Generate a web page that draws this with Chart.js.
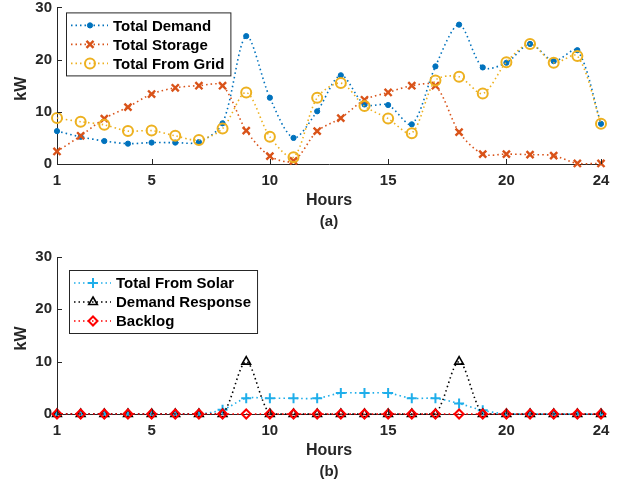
<!DOCTYPE html>
<html>
<head>
<meta charset="utf-8">
<script src="https://cdn.jsdelivr.net/npm/chart.js@4.4.1/dist/chart.umd.min.js"></script>
<style>
    html, body { margin: 0; padding: 0; background: #fff; }
    .panel { position: absolute; left: 0; width: 628px; height: 243px; }
    #panelA { top: 0; }
    #panelB { top: 243px; }
</style>
</head>
<body>
<div class="panel" id="panelA"><canvas id="chartA" width="628" height="243"></canvas></div>
<div class="panel" id="panelB"><canvas id="chartB" width="628" height="243"></canvas></div>
<script>
const hours = [1, 2, 3, 4, 5, 6, 7, 8, 9, 10, 11, 12, 13, 14, 15, 16, 17, 18, 19, 20, 21, 22, 23, 24];
const xTicks = [1, 5, 10, 15, 20, 24];
const yTicks = [0, 10, 20, 30];

// panel (a)
const totalDemand = [6.3, 5.2, 4.4, 3.9, 4.1, 4.1, 4.2, 7.8, 24.5, 12.7, 5.0, 10.1, 17.0, 11.4, 11.3, 7.6, 18.7, 26.7, 18.5, 19.4, 23.0, 19.7, 21.8, 7.7];
const totalStorage = [2.4, 5.4, 8.7, 10.9, 13.4, 14.6, 15.0, 15.0, 6.4, 1.5, 0.6, 6.3, 8.8, 12.3, 13.7, 15.0, 15.0, 6.1, 1.9, 1.9, 1.8, 1.6, 0.1, 0.1];
const totalFromGrid = [8.8, 8.1, 7.5, 6.3, 6.4, 5.4, 4.6, 6.8, 13.7, 5.2, 1.3, 12.7, 15.5, 11.1, 8.7, 5.9, 16.0, 16.7, 13.5, 19.5, 23.0, 19.4, 20.7, 7.7];

// panel (b)
const totalFromSolar = [0, 0, 0, 0, 0, 0, 0, 0.8, 3.0, 3.0, 3.0, 3.0, 4.0, 4.0, 4.0, 3.0, 3.0, 2.0, 0.7, 0, 0, 0, 0, 0];
const demandResponse = [0, 0, 0, 0, 0, 0, 0, 0, 10, 0, 0, 0, 0, 0, 0, 0, 0, 10, 0, 0, 0, 0, 0, 0];
const backlog = [0, 0, 0, 0, 0, 0, 0, 0, 0, 0, 0, 0, 0, 0, 0, 0, 0, 0, 0, 0, 0, 0, 0, 0];

const axisColor = '#262626';
const fontFamily = '"Liberation Sans", Arial, sans-serif';

function series(label, values, color, extra) {
    return Object.assign({
        label: label,
        data: values.map((v, i) => ({ x: hours[i], y: v })),
        borderColor: color,
        pointBorderColor: color,
        pointBackgroundColor: 'rgba(0,0,0,0)',
        borderWidth: 1.6,
        borderDash: [1.5, 3],
        tension: 0.3,
        clip: false,
        fill: false
    }, extra);
}

// draws inward ticks, axis titles, caption and a boxed legend inside the plot
const matlabLook = {
    id: 'matlabLook',
    afterDatasetsDraw(chart, args, opts) {
        const ctx = chart.ctx;
        const area = chart.chartArea;
        const xs = chart.scales.x;
        const ys = chart.scales.y;
        ctx.save();
        ctx.strokeStyle = axisColor;
        ctx.lineWidth = 1;
        ctx.beginPath();
        xTicks.forEach(t => {
            const px = Math.round(xs.getPixelForValue(t)) + 0.5;
            ctx.moveTo(px, area.bottom);
            ctx.lineTo(px, area.bottom - 5);
        });
        yTicks.forEach(t => {
            const py = Math.round(ys.getPixelForValue(t)) + 0.5;
            ctx.moveTo(area.left, py);
            ctx.lineTo(area.left + 5, py);
        });
        ctx.stroke();

        ctx.fillStyle = axisColor;
        ctx.textAlign = 'center';
        ctx.textBaseline = 'middle';
        ctx.font = 'bold 16px ' + fontFamily;
        ctx.fillText('Hours', (area.left + area.right) / 2, area.bottom + 37);
        ctx.font = 'bold 15px ' + fontFamily;
        ctx.fillText(opts.caption, (area.left + area.right) / 2, area.bottom + 58);
        ctx.save();
        ctx.translate(22, (area.top + area.bottom) / 2 + 3);
        ctx.rotate(-Math.PI / 2);
        ctx.font = 'bold 16px ' + fontFamily;
        ctx.fillText('kW', 0, 0);
        ctx.restore();

        // legend
        ctx.font = 'bold 15px ' + fontFamily;
        const sets = chart.data.datasets;
        const maxW = Math.max(...sets.map(d => ctx.measureText(d.label).width));
        const bx = area.left + opts.dx;
        const by = area.top + opts.dy;
        const bw = 47 + maxW + 6;
        const bh = 63;
        ctx.fillStyle = '#fff';
        ctx.fillRect(bx, by, bw, bh);
        ctx.strokeStyle = '#262626';
        ctx.lineWidth = 1;
        ctx.strokeRect(bx + 0.5, by + 0.5, bw, bh);
        sets.forEach((d, i) => {
            const ry = by + 13 + i * 19;
            ctx.save();
            ctx.strokeStyle = d.borderColor;
            ctx.lineWidth = d.borderWidth;
            ctx.setLineDash(d.borderDash);
            ctx.beginPath();
            ctx.moveTo(bx + 5, ry);
            ctx.lineTo(bx + 42, ry);
            ctx.stroke();
            ctx.setLineDash([]);
            ctx.strokeStyle = d.pointBorderColor;
            ctx.fillStyle = d.pointBackgroundColor;
            ctx.lineWidth = d.pointBorderWidth;
            ctx.beginPath();
            Chart.helpers.drawPoint(ctx, {
                pointStyle: d.pointStyle,
                radius: d.pointRadius,
                borderWidth: d.pointBorderWidth,
                rotation: 0
            }, bx + 24, ry);
            ctx.restore();
            ctx.fillStyle = '#000';
            ctx.textAlign = 'left';
            ctx.fillText(d.label, bx + 47, ry + 1);
        });
        ctx.restore();
    }
};

function makeOptions(topPad, xHeight, caption, legendDx, legendDy) {
    const tickFont = { family: fontFamily, size: 15, weight: 'bold' };
    return {
        responsive: false,
        animation: false,
        layout: { padding: { top: topPad, right: 27, left: 0, bottom: 0 } },
        plugins: {
            legend: { display: false },
            tooltip: { enabled: false },
            matlabLook: { caption: caption, dx: legendDx, dy: legendDy }
        },
        scales: {
            x: {
                type: 'linear',
                min: 1,
                max: 24,
                grid: { display: false, drawTicks: false },
                border: { display: true, color: axisColor, width: 1 },
                afterBuildTicks: (scale) => { scale.ticks = xTicks.map(v => ({ value: v })); },
                afterFit: (scale) => {
                    scale.height = xHeight;
                    scale.paddingLeft = 0;
                    scale.paddingRight = 0;
                },
                ticks: { color: axisColor, font: tickFont, padding: 8, maxRotation: 0, autoSkip: false }
            },
            y: {
                min: 0,
                max: 30,
                grid: { display: false, drawTicks: false },
                border: { display: true, color: axisColor, width: 1 },
                afterBuildTicks: (scale) => { scale.ticks = yTicks.map(v => ({ value: v })); },
                afterFit: (scale) => {
                    scale.width = 57;
                    scale.paddingTop = 0;
                    scale.paddingBottom = 0;
                },
                ticks: { color: axisColor, font: tickFont, padding: 5 }
            }
        }
    };
}

new Chart(document.getElementById('chartA'), {
    type: 'line',
    data: {
        datasets: [
            series('Total Demand', totalDemand, '#0072BD', {
                pointStyle: 'circle', pointRadius: 2.6, pointBorderWidth: 1,
                pointBackgroundColor: '#0072BD', order: 2
            }),
            series('Total Storage', totalStorage, '#D95319', {
                pointStyle: 'crossRot', pointRadius: 5, pointBorderWidth: 2.4, order: 1
            }),
            series('Total From Grid', totalFromGrid, '#EDB120', {
                pointStyle: 'circle', pointRadius: 5, pointBorderWidth: 2, order: 0
            })
        ]
    },
    options: makeOptions(6, 79, '(a)', 9, 5),
    plugins: [matlabLook]
});

new Chart(document.getElementById('chartB'), {
    type: 'line',
    data: {
        datasets: [
            series('Total From Solar', totalFromSolar, '#1FAEEA', {
                pointStyle: 'cross', pointRadius: 5, pointBorderWidth: 2, order: 2
            }),
            series('Demand Response', demandResponse, '#000000', {
                pointStyle: 'triangle', pointRadius: 5, pointBorderWidth: 1.6, order: 1
            }),
            series('Backlog', backlog, '#FF0000', {
                pointStyle: 'rectRot', pointRadius: 4.5, pointBorderWidth: 2, order: 0
            })
        ]
    },
    options: makeOptions(14, 72, '(b)', 12, 13),
    plugins: [matlabLook]
});
</script>
</body>
</html>
